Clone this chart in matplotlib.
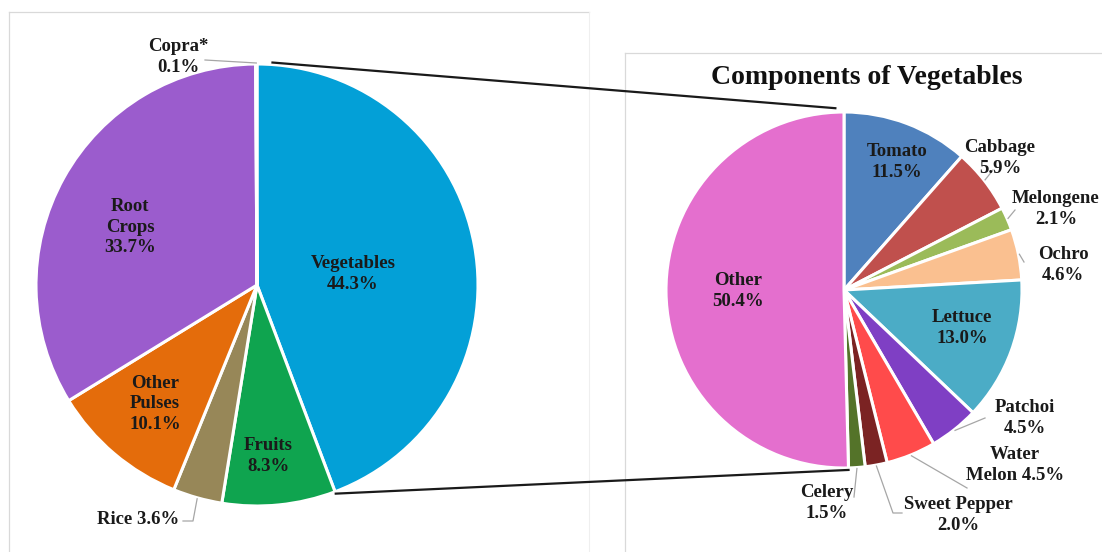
import numpy as np
import matplotlib
matplotlib.use("Agg")
import matplotlib.pyplot as plt

W, H = 1102, 552

# Crop production shares (%)
crop_labels = ["Vegetables", "Fruits", "Rice", "Other\nPulses", "Root\nCrops", "Copra*"]
crop_shares = [44.3, 8.3, 3.6, 10.1, 33.7, 0.1]
crop_colors = ["#03a0d7", "#0fa44f", "#978758", "#e46c0b", "#9b5ccd", "#b0b0b0"]

# Breakdown of the vegetables slice (%)
veg_labels = ["Tomato", "Cabbage", "Melongene", "Ochro", "Lettuce", "Patchoi",
              "Water\nMelon", "Sweet Pepper", "Celery", "Other"]
veg_shares = [11.5, 5.9, 2.1, 4.6, 13.0, 4.5, 4.5, 2.0, 1.5, 50.4]
veg_colors = ["#4f81bd", "#c0504d", "#9bbb59", "#fac090", "#4bacc6", "#7f3fc4",
              "#ff4b4b", "#7b2323", "#547329", "#e46fce"]

plt.rcParams["font.family"] = ["Liberation Serif", "DejaVu Serif"]

fig = plt.figure(figsize=(W / 100, H / 100), dpi=100)
ax = fig.add_axes([0, 0, 1, 1])


def fy(y):
    # image-style y (from top) -> axes y
    return H - y


left_c, left_r = (257, fy(285)), 221
right_c, right_r = (844, fy(290)), 178

# frame lines around the two chart areas
frame = dict(color="#d9d9d9", lw=0.9, zorder=0)
ax.plot([9, 589], [fy(12), fy(12)], **frame)
ax.plot([9, 9], [fy(12), 0], **frame)
ax.plot([589, 589], [fy(12), 0], color="#efefef", lw=0.8, zorder=0)
ax.plot([625, W], [fy(53), fy(53)], **frame)
ax.plot([625, 625], [fy(53), 0], **frame)

wedge_kw = dict(edgecolor="white", linewidth=2.2)
ax.pie(crop_shares, colors=crop_colors, startangle=90, counterclock=False,
       center=left_c, radius=left_r, wedgeprops=wedge_kw, frame=True)
ax.pie(veg_shares, colors=veg_colors, startangle=90, counterclock=False,
       center=right_c, radius=right_r, wedgeprops=wedge_kw, frame=True)
ax.set_xlim(0, W)
ax.set_ylim(0, H)
ax.set_aspect("equal")
ax.axis("off")


def edge_point(shares, idx, center, r, frac=0.5):
    before = sum(shares[:idx]) + shares[idx] * frac
    ang = np.deg2rad(90 - 360 * before / sum(shares))
    return center[0] + r * np.cos(ang), center[1] + r * np.sin(ang)


# connector lines between the vegetables slice and the breakdown pie
p1 = edge_point(crop_shares, 0, left_c, left_r + 2, frac=0.025)
p2 = edge_point(crop_shares, 0, left_c, left_r + 2, frac=1.0)
q1 = edge_point(veg_shares, 9, right_c, right_r + 4, frac=0.985)
q2 = edge_point(veg_shares, 9, right_c, right_r + 2, frac=0.0)
ax.plot([p1[0], q1[0]], [p1[1], q1[1]], color="#1a1a1a", lw=1.6, zorder=5)
ax.plot([p2[0], q2[0]], [p2[1], q2[1]], color="#1a1a1a", lw=1.6, zorder=5)

txt = dict(fontsize=13.5, fontweight="bold", color="#1a1a1a",
           ha="center", va="center", linespacing=1.25, zorder=6)
lead = dict(color="#a6a6a6", lw=0.9, zorder=4)

# left pie labels: (text position, leader path or None)
crop_pos = [(353, 274), (268, 456), (138, 520), (155, 404), (130, 227), (178, 57)]
crop_leads = [None, None, [(193, 521), (183, 521)], None, None, [(205, 60)]]
for i, (lab, val) in enumerate(zip(crop_labels, crop_shares)):
    x, y = crop_pos[i]
    sep = " " if lab == "Rice" else "\n"
    ax.text(x, fy(y), f"{lab}{sep}{val:.1f}%", **txt)
    if crop_leads[i]:
        ax_pt = edge_point(crop_shares, i, left_c, left_r + 1)
        pts = [ax_pt] + [(px, fy(py)) for px, py in crop_leads[i]]
        ax.plot([p[0] for p in pts], [p[1] for p in pts], **lead)

# right pie labels
veg_pos = [(897, 162), (1000, 158), (1056, 209), (1063, 265), (962, 328),
           (1025, 418), (1015, 465), (958, 515), (827, 503), (738, 291)]
veg_leads = [None, [(993, 170)], [(1015, 210)], [(1024, 262)], None,
             [(985, 418)], [(967, 488)], [(893, 513), (902, 513)],
             [(854, 497)], None]
for i, (lab, val) in enumerate(zip(veg_labels, veg_shares)):
    x, y = veg_pos[i]
    sep = " " if lab == "Water\nMelon" else "\n"
    ax.text(x, fy(y), f"{lab}{sep}{val:.1f}%", **txt)
    if veg_leads[i]:
        ax_pt = edge_point(veg_shares, i, right_c, right_r + 1)
        pts = [ax_pt] + [(px, fy(py)) for px, py in veg_leads[i]]
        ax.plot([p[0] for p in pts], [p[1] for p in pts], **lead)

ax.text(867, fy(77), "Components of Vegetables", fontsize=20, fontweight="bold",
        color="#111111", ha="center", va="center", zorder=6)

fig.savefig("out.png", dpi=100)
